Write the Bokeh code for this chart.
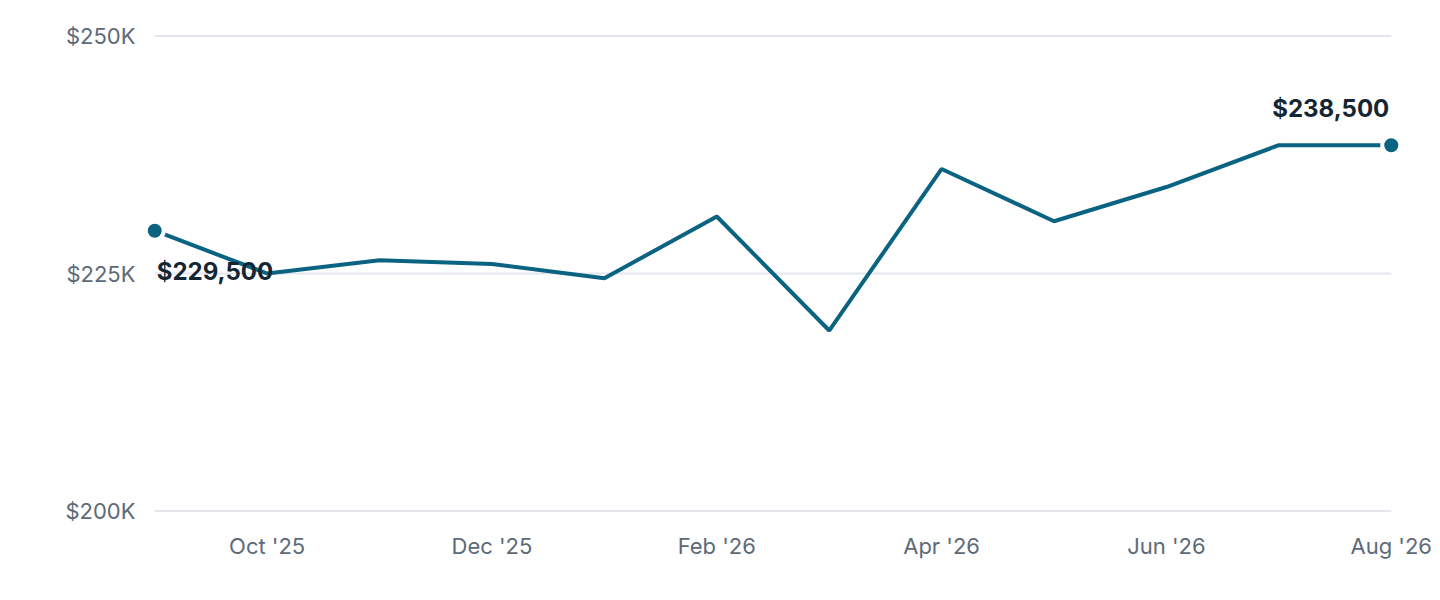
from bokeh.plotting import figure
from bokeh.models import FixedTicker, CustomJSTickFormatter, ColumnDataSource
from bokeh.core.properties import value
from bokeh.embed import file_html
from bokeh.resources import INLINE

# monthly values, Sep '25 .. Aug '26
months = ["Sep '25", "Oct '25", "Nov '25", "Dec '25", "Jan '26", "Feb '26",
          "Mar '26", "Apr '26", "May '26", "Jun '26", "Jul '26", "Aug '26"]
prices = [229500, 225000, 226400, 226000, 224500, 231000,
          219000, 236000, 230500, 234100, 238500, 238500]
y_ticks = [200000, 225000, 250000]

LINE = "#0b6382"
GREY = "#5c6a78"
DARK = "#142634"
FONT = "Inter"

xs = list(range(len(months)))

# a little room around the data so the end dots are not clipped
p = figure(output_backend="svg", toolbar_location=None,
           frame_width=1259, frame_height=498,
           x_range=(-0.1, len(months) - 0.9), y_range=(198800, 251200),
           min_border_left=143, min_border_right=30, min_border_top=24, min_border_bottom=70)
p.outline_line_color = None

# horizontal guides only across the data span
p.segment(x0=[xs[0]] * len(y_ticks), x1=[xs[-1]] * len(y_ticks), y0=y_ticks, y1=y_ticks,
          line_color="#e3e7ed", line_width=2)

p.line(xs, prices, line_color=LINE, line_width=4)

ends = ColumnDataSource(dict(x=[xs[0], xs[-1]], y=[prices[0], prices[-1]]))
p.scatter("x", "y", source=ends, size=18, fill_color=LINE, line_color="white", line_width=4)

first_txt = "${:,}".format(prices[0])
last_txt = "${:,}".format(prices[-1])
p.text([xs[0]], [prices[0]], text=[first_txt], x_offset=2, y_offset=41,
       text_align="left", text_baseline="alphabetic", text_font=value(FONT),
       text_font_size="24px", text_font_style="bold", text_color=DARK)
p.text([xs[-1]], [prices[-1]], text=[last_txt], x_offset=-2, y_offset=-37,
       text_align="right", text_baseline="alphabetic", text_font=value(FONT),
       text_font_size="24px", text_font_style="bold", text_color=DARK)

# axes
p.grid.visible = False
p.yaxis.ticker = FixedTicker(ticks=y_ticks)
p.yaxis.formatter = CustomJSTickFormatter(code="return '$' + (tick / 1000) + 'K';")
p.xaxis.ticker = FixedTicker(ticks=xs[1::2])
p.xaxis.major_label_overrides = {i: months[i] for i in xs}

for ax in (p.xaxis[0], p.yaxis[0]):
    ax.axis_line_color = None
    ax.major_tick_line_color = None
    ax.minor_tick_line_color = None
    ax.major_label_text_font = FONT
    ax.major_label_text_font_size = "22px"
    ax.major_label_text_color = GREY
p.yaxis.major_label_standoff = 2
p.xaxis.major_label_standoff = 4

open("out.html", "w").write(file_html(p, INLINE))
